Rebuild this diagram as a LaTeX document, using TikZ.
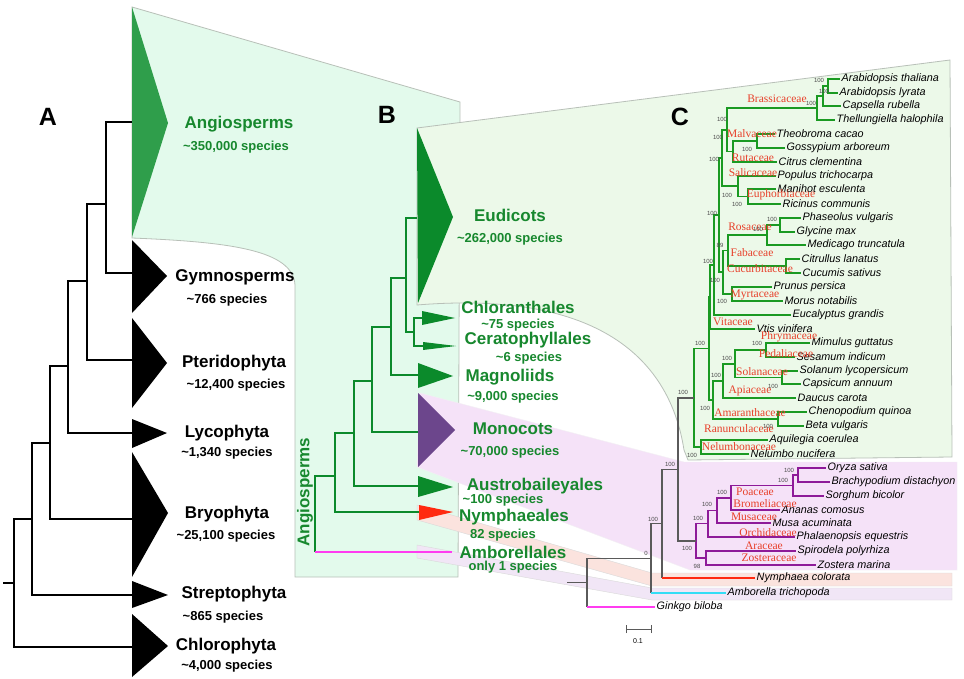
\documentclass[tikz,border=0pt]{standalone}
\usepackage{fontspec}
\setmainfont{Liberation Sans}
\newfontfamily\famfont{Liberation Serif}
\definecolor{bfill}{HTML}{E3FAEC}
\definecolor{cfill}{HTML}{ECF9E9}
\definecolor{edgec}{HTML}{B8C0B8}
\definecolor{pinkc}{HTML}{F5E2F8}
\definecolor{salmonc}{HTML}{FBE3DE}
\definecolor{lavc}{HTML}{F1E6F6}
\definecolor{lgreen}{HTML}{2F9E4B}
\definecolor{dgreen}{HTML}{0B8A2B}
\definecolor{tgreen}{HTML}{17882E}
\definecolor{lineg}{HTML}{1A9A22}
\definecolor{monoc}{HTML}{6C468C}
\definecolor{purpc}{HTML}{8E1A99}
\definecolor{nred}{HTML}{FF2A10}
\definecolor{famred}{HTML}{E8402A}
\definecolor{cyanc}{HTML}{33DDF5}
\definecolor{magc}{HTML}{FF3CF0}
\definecolor{greyc}{HTML}{5A5A5A}
\tikzset{
  bigl/.style={font=\bfseries\fontsize{17}{19}\selectfont, inner sep=0pt},
  spl/.style={font=\bfseries\fontsize{13}{15}\selectfont, inner sep=0pt},
  grtxt/.style={text=tgreen},
  panel/.style={font=\bfseries\fontsize{25}{27}\selectfont, inner sep=0pt},
  taxon/.style={font=\itshape\fontsize{10.8}{12}\selectfont, anchor=west, inner sep=1.5pt},
  fam/.style={font=\famfont\fontsize{11.5}{13}\selectfont, text=famred, inner sep=0pt},
  bs/.style={font=\fontsize{6}{7}\selectfont, text=black!70, inner sep=0pt},
  atree/.style={draw=black, line width=1.8pt},
  btree/.style={draw=dgreen, line width=1.8pt},
  cg/.style={draw=lineg, line width=1.5pt},
  cp/.style={draw=purpc, line width=1.5pt},
  cgr/.style={draw=greyc, line width=1.2pt},
  region/.style={draw=edgec, line width=0.8pt},
}
\begin{document}
\begin{tikzpicture}[x=1pt,y=-1pt]
\useasboundingbox[fill=white] (0,0) rectangle (964,679);

% ---------- background regions ----------
\path[region, fill=bfill] (132,7) -- (460,102) -- (458,577) -- (295,577) -- (295,285)
  .. controls (293,250) and (230,242) .. (132,238) -- cycle;
\path[fill=pinkc, draw=pinkc!80!black!20] (420,393) -- (684,462) -- (957,462) -- (957,570) -- (690,570) -- (417,467) -- cycle;
\path[fill=salmonc, draw=black!15] (417,505) -- (652,573) -- (952,573) -- (952,586) -- (652,586) -- (417,520) -- cycle;
\path[fill=lavc, draw=black!15] (417,545) -- (652,588) -- (952,588) -- (952,600) -- (652,600) -- (417,558) -- cycle;
\path[region, fill=cfill] (417,128) -- (950,60) -- (952,457) -- (688,460) -- (684,450)
  .. controls (670,360) and (600,290) .. (417,305) -- cycle;

% ---------- panel A ----------
\node[panel] (pA) at (48,117) {A};
\fill[lgreen] (132,7) -- (168,123) -- (132,237) -- cycle;
\fill[black] (132,240) -- (167,276) -- (132,313) -- cycle;
\fill[black] (132,318) -- (167,363) -- (132,408) -- cycle;
\fill[black] (132,419) -- (167,433) -- (132,448) -- cycle;
\fill[black] (132,452) -- (168,513) -- (132,577) -- cycle;
\fill[black] (132,581) -- (168,595) -- (132,608) -- cycle;
\fill[black] (132,614) -- (168,646) -- (132,677) -- cycle;
\coordinate (sAng) at (132,122);
\coordinate (sGym) at (132,273);
\coordinate (sPte) at (132,360);
\coordinate (sLyc) at (132,433);
\coordinate (sBry) at (132,519);
\coordinate (sStr) at (132,595);
\coordinate (sChl) at (132,647);
\coordinate (a1) at (106,204);
\coordinate (a2) at (87,281);
\coordinate (a3) at (68,366);
\coordinate (a4) at (50,443);
\coordinate (a5) at (32,519);
\coordinate (a6) at (14,583);
\coordinate (a0) at (3,583);
\draw[atree] (a1) |- (sAng);
\draw[atree] (a1) |- (sGym);
\draw[atree] (a2) |- (a1);
\draw[atree] (a2) |- (sPte);
\draw[atree] (a3) |- (a2);
\draw[atree] (a3) |- (sLyc);
\draw[atree] (a4) |- (a3);
\draw[atree] (a4) |- (sBry);
\draw[atree] (a5) |- (a4);
\draw[atree] (a5) |- (sStr);
\draw[atree] (a6) |- (a5);
\draw[atree] (a6) |- (sChl);
\draw[atree] (a0) -- (a6);

\node[bigl, grtxt] (tAng) at (239,124) {Angiosperms};
\node[spl, grtxt] (nAng) at (236,147) {\textasciitilde350,000 species};
\node[bigl] (tGym) at (235,277) {Gymnosperms};
\node[spl] (nGym) at (227,300) {\textasciitilde766 species};
\node[bigl] (tPte) at (234,363) {Pteridophyta};
\node[spl] (nPte) at (236,385) {\textasciitilde12,400 species};
\node[bigl] (tLyc) at (227,433) {Lycophyta};
\node[spl] (nLyc) at (227,453) {\textasciitilde1,340 species};
\node[bigl] (tBry) at (227,514) {Bryophyta};
\node[spl] (nBry) at (226,536) {\textasciitilde25,100 species};
\node[bigl] (tStr) at (234,594) {Streptophyta};
\node[spl] (nStr) at (223,617) {\textasciitilde865 species};
\node[bigl] (tChl) at (226,646) {Chlorophyta};
\node[spl] (nChl) at (227,666) {\textasciitilde4,000 species};

% ---------- panel B ----------
\node[panel] (pB) at (387,115) {B};
\fill[dgreen] (417,128) -- (453,217) -- (418,303) -- cycle;
\fill[dgreen] (422,311) -- (455,318) -- (422,325) -- cycle;
\fill[dgreen] (423,342) -- (456,346) -- (423,350) -- cycle;
\fill[dgreen] (418,363) -- (453,376) -- (418,388) -- cycle;
\fill[monoc] (418,393) -- (455,430) -- (418,467) -- cycle;
\fill[dgreen] (418,476) -- (453,487) -- (418,497) -- cycle;
\fill[nred] (419,505) -- (453,512) -- (419,520) -- cycle;
\coordinate (sEud) at (417,218);
\coordinate (sCh) at (422,318);
\coordinate (sCe) at (423,346);
\coordinate (sMa) at (418,375);
\coordinate (sMo) at (418,432);
\coordinate (sAu) at (418,486);
\coordinate (sNy) at (419,512);
\coordinate (eAm) at (452,552);
\coordinate (bC) at (414,332);
\coordinate (bE) at (406,278);
\coordinate (bM) at (391,327);
\coordinate (bMo) at (372,381);
\coordinate (bA) at (354,433);
\coordinate (bN) at (335,476);
\coordinate (bR) at (315,552);
\draw[btree] (bC) |- (sCh);
\draw[btree] (bC) |- (sCe);
\draw[btree] (bE) |- (sEud);
\draw[btree] (bE) |- (bC);
\draw[btree] (bM) |- (bE);
\draw[btree] (bM) |- (sMa);
\draw[btree] (bMo) |- (bM);
\draw[btree] (bMo) |- (sMo);
\draw[btree] (bA) |- (bMo);
\draw[btree] (bA) |- (sAu);
\draw[btree] (bN) |- (bA);
\draw[btree] (bN) |- (sNy);
\draw[btree] (bR) |- (bN);
\draw[draw=magc, line width=1.6pt] (bR) -- (eAm);

\node[bigl, grtxt, rotate=90] (tAngB) at (305,492) {Angiosperms};
\node[bigl, grtxt] (tEud) at (510,215) {Eudicots};
\node[spl, grtxt] (nEud) at (510,239) {\textasciitilde262,000 species};
\node[bigl, grtxt] (tChB) at (518,307) {Chloranthales};
\node[spl, grtxt] (nChB) at (518,325) {\textasciitilde75 species};
\node[bigl, grtxt] (tCe) at (528,340) {Ceratophyllales};
\node[spl, grtxt] (nCe) at (529,358) {\textasciitilde6 species};
\node[bigl, grtxt] (tMa) at (510,377) {Magnoliids};
\node[spl, grtxt] (nMa) at (513,397) {\textasciitilde9,000 species};
\node[bigl, grtxt] (tMo) at (513,429) {Monocots};
\node[spl, grtxt] (nMo) at (510,452) {\textasciitilde70,000 species};
\node[bigl, grtxt] (tAu) at (535,486) {Austrobaileyales};
\node[spl, grtxt] (nAu) at (503,500) {\textasciitilde100 species};
\node[bigl, grtxt] (tNy) at (514,517) {Nymphaeales};
\node[spl, grtxt] (nNy) at (503,535) {82 species};
\node[bigl, grtxt] (tAm) at (513,552) {Amborellales};
\node[spl, grtxt] (nAm) at (513,567) {only 1 species};

% ---------- panel C ----------
\node[panel] (pC) at (680,117) {C};
\node[taxon] (L0) at (840,79) {Arabidopsis thaliana};
\node[taxon] (L1) at (838,93) {Arabidopsis lyrata};
\node[taxon] (L2) at (841,106) {Capsella rubella};
\node[taxon] (L3) at (835,120) {Thellungiella halophila};
\node[taxon] (L4) at (775,134) {Theobroma cacao};
\node[taxon] (L5) at (785,148) {Gossypium arboreum};
\node[taxon] (L6) at (777,162) {Citrus clementina};
\node[taxon] (L7) at (776,176) {Populus trichocarpa};
\node[taxon] (L8) at (776,189) {Manihot esculenta};
\node[taxon] (L9) at (781,204) {Ricinus communis};
\node[taxon] (L10) at (801,218) {Phaseolus vulgaris};
\node[taxon] (L11) at (795,232) {Glycine max};
\node[taxon] (L12) at (806,245) {Medicago truncatula};
\node[taxon] (L13) at (800,259) {Citrullus lanatus};
\node[taxon] (L14) at (801,273) {Cucumis sativus};
\node[taxon] (L15) at (772,287) {Prunus persica};
\node[taxon] (L16) at (783,301) {Morus notabilis};
\node[taxon] (L17) at (791,315) {Eucalyptus grandis};
\node[taxon] (L18) at (755,329) {Vtis vinifera};
\node[taxon] (L19) at (810,343) {Mimulus guttatus};
\node[taxon] (L20) at (795,357) {Sesamum indicum};
\node[taxon] (L21) at (798,371) {Solanum lycopersicum};
\node[taxon] (L22) at (801,384) {Capsicum annuum};
\node[taxon] (L23) at (796,398) {Daucus carota};
\node[taxon] (L24) at (807,412) {Chenopodium quinoa};
\node[taxon] (L25) at (804,426) {Beta vulgaris};
\node[taxon] (L26) at (768,440) {Aquilegia coerulea};
\node[taxon] (L27) at (749,454) {Nelumbo nucifera};
\node[taxon] (L28) at (826,468) {Oryza sativa};
\node[taxon] (L29) at (830,482) {Brachypodium distachyon};
\node[taxon] (L30) at (824,496) {Sorghum bicolor};
\node[taxon] (L31) at (780,510) {Ananas comosus};
\node[taxon] (L32) at (771,523) {Musa acuminata};
\node[taxon] (L33) at (795,537) {Phalaenopsis equestris};
\node[taxon] (L34) at (796,551) {Spirodela polyrhiza};
\node[taxon] (L35) at (816,565) {Zostera marina};
\node[taxon] (L36) at (755,578) {Nymphaea colorata};
\node[taxon] (L37) at (726,593) {Amborella trichopoda};
\node[taxon] (L38) at (655,607) {Ginkgo biloba};

\coordinate (n1) at (828,86);
\coordinate (n2) at (823,96);
\coordinate (n3) at (817,108);
\coordinate (n4) at (757,141);
\coordinate (n5) at (733,151.5);
\coordinate (n6) at (727,130);
\coordinate (n7) at (748,196.5);
\coordinate (n8) at (738,186);
\coordinate (n9) at (722,158);
\coordinate (n10) at (780,225);
\coordinate (n11) at (767,235);
\coordinate (n12) at (786,266);
\coordinate (n13) at (728,250.5);
\coordinate (n14) at (732,294);
\coordinate (n15) at (723,272);
\coordinate (n16) at (719,215);
\coordinate (n17) at (714,265);
\coordinate (n18) at (710,297);
\coordinate (n19) at (766,350);
\coordinate (n20) at (782,377.5);
\coordinate (n21) at (735,364);
\coordinate (n22) at (723,381);
\coordinate (n23) at (778,419);
\coordinate (n24) at (713,400);
\coordinate (n25) at (709,348.5);
\coordinate (n26) at (701,447);
\coordinate (n27) at (694,398);
\coordinate (m1) at (798,475);
\coordinate (m2) at (793,485.5);
\coordinate (m3) at (731,497.8);
\coordinate (m4) at (717,510.4);
\coordinate (m5) at (708,523.7);
\coordinate (m6) at (706,558);
\coordinate (m7) at (696,540.9);
\coordinate (n28) at (678,469.4);
\coordinate (n29) at (662,523.7);
\coordinate (n30) at (651,558.4);
\coordinate (n31) at (587,582.7);
\coordinate (r0) at (567,582.7);

\draw[cg] (n1) |- (L0.west);  \draw[cg] (n1) |- (L1.west);
\draw[cg] (n2) |- (n1);       \draw[cg] (n2) |- (L2.west);
\draw[cg] (n3) |- (n2);       \draw[cg] (n3) |- (L3.west);
\draw[cg] (n4) |- (L4.west);  \draw[cg] (n4) |- (L5.west);
\draw[cg] (n5) |- (n4);       \draw[cg] (n5) |- (L6.west);
\draw[cg] (n6) |- (n3);       \draw[cg] (n6) |- (n5);
\draw[cg] (n7) |- (L8.west);  \draw[cg] (n7) |- (L9.west);
\draw[cg] (n8) |- (L7.west);  \draw[cg] (n8) |- (n7);
\draw[cg] (n9) |- (n6);       \draw[cg] (n9) |- (n8);
\draw[cg] (n10) |- (L10.west); \draw[cg] (n10) |- (L11.west);
\draw[cg] (n11) |- (n10);      \draw[cg] (n11) |- (L12.west);
\draw[cg] (n12) |- (L13.west); \draw[cg] (n12) |- (L14.west);
\draw[cg] (n13) |- (n11);      \draw[cg] (n13) |- (n12);
\draw[cg] (n14) |- (L15.west); \draw[cg] (n14) |- (L16.west);
\draw[cg] (n15) |- (n13);      \draw[cg] (n15) |- (n14);
\draw[cg] (n16) |- (n9);       \draw[cg] (n16) |- (n15);
\draw[cg] (n17) |- (n16);      \draw[cg] (n17) |- (L17.west);
\draw[cg] (n18) |- (n17);      \draw[cg] (n18) |- (L18.west);
\draw[cg] (n19) |- (L19.west); \draw[cg] (n19) |- (L20.west);
\draw[cg] (n20) |- (L21.west); \draw[cg] (n20) |- (L22.west);
\draw[cg] (n21) |- (n19);      \draw[cg] (n21) |- (n20);
\draw[cg] (n22) |- (n21);      \draw[cg] (n22) |- (L23.west);
\draw[cg] (n23) |- (L24.west); \draw[cg] (n23) |- (L25.west);
\draw[cg] (n24) |- (n22);      \draw[cg] (n24) |- (n23);
\draw[cg] (n25) |- (n18);      \draw[cg] (n25) |- (n24);
\draw[cg] (n26) |- (L26.west); \draw[cg] (n26) |- (L27.west);
\draw[cg] (n27) |- (n25);      \draw[cg] (n27) |- (n26);

\draw[cp] (m1) |- (L28.west); \draw[cp] (m1) |- (L29.west);
\draw[cp] (m2) |- (m1);       \draw[cp] (m2) |- (L30.west);
\draw[cp] (m3) |- (m2);       \draw[cp] (m3) |- (L31.west);
\draw[cp] (m4) |- (m3);       \draw[cp] (m4) |- (L32.west);
\draw[cp] (m5) |- (m4);       \draw[cp] (m5) |- (L33.west);
\draw[cp] (m6) |- (L34.west); \draw[cp] (m6) |- (L35.west);
\draw[cp] (m7) |- (m5);       \draw[cp] (m7) |- (m6);

\draw[cgr] (n28) |- (n27);  \draw[cgr] (n28) |- (m7);
\draw[cgr] (n29) |- (n28);  \draw[cgr] (n29) -- (n29 |- L36);
\draw[draw=nred, line width=1.5pt] (n29 |- L36) -- (L36.west);
\draw[cgr] (n30) |- (n29);  \draw[cgr] (n30) -- (n30 |- L37);
\draw[draw=cyanc, line width=1.5pt] (n30 |- L37) -- (L37.west);
\draw[cgr] (n31) |- (n30);  \draw[cgr] (n31) -- (n31 |- L38);
\draw[draw=magc, line width=1.5pt] (n31 |- L38) -- (L38.west);
\draw[cgr] (r0) -- (n31);

% family labels
\node[fam] (fBra) at (777,99) {Brassicaceae};
\node[fam] (fMal) at (752,134) {Malvaceae};
\node[fam] (fRut) at (753,158) {Rutaceae};
\node[fam] (fSal) at (753,173) {Salicaceae};
\node[fam] (fEup) at (781,195) {Euphorbiaceae};
\node[fam] (fRos) at (750,227) {Rosaceae};
\node[fam] (fFab) at (752,253) {Fabaceae};
\node[fam] (fCuc) at (760,269) {Cucurbitaceae};
\node[fam] (fMyr) at (755,295) {Myrtaceae};
\node[fam] (fVit) at (733,322) {Vitaceae};
\node[fam] (fPhr) at (789,337) {Phrymaceae};
\node[fam] (fPed) at (786,354) {Pedaliaceae};
\node[fam] (fSol) at (762,372) {Solanaceae};
\node[fam] (fApi) at (750,391) {Apiaceae};
\node[fam] (fAma) at (750,413) {Amaranthaceae};
\node[fam] (fRan) at (739,429) {Ranunculaceae};
\node[fam] (fNel) at (739,447) {Nelumbonaceae};
\node[fam] (fPoa) at (755,492) {Poaceae};
\node[fam] (fBro) at (765,504) {Bromeliaceae};
\node[fam] (fMus) at (754,517) {Musaceae};
\node[fam] (fOrc) at (768,533) {Orchidaceae};
\node[fam] (fAra) at (764,546) {Araceae};
\node[fam] (fZos) at (769,558) {Zosteraceae};

% bootstrap values
\node[bs] (b1) at (819,80) {100};
\node[bs] (b2) at (824,91) {100};
\node[bs] (b3) at (811,103) {100};
\node[bs] (b4) at (722,119) {100};
\node[bs] (b5) at (718,137) {100};
\node[bs] (b6) at (747,149) {100};
\node[bs] (b7) at (714,159) {100};
\node[bs] (b8) at (727,195) {100};
\node[bs] (b9) at (737,204) {100};
\node[bs] (b10) at (712,213) {100};
\node[bs] (b11) at (772,219) {100};
\node[bs] (b12) at (758,229) {100};
\node[bs] (b13) at (720,245) {89};
\node[bs] (b14) at (708,261) {100};
\node[bs] (b15) at (715,280) {100};
\node[bs] (b16) at (722,301) {100};
\node[bs] (b17) at (700,343) {100};
\node[bs] (b18) at (757,343) {100};
\node[bs] (b19) at (727,358) {100};
\node[bs] (b20) at (716,375) {100};
\node[bs] (b21) at (773,386) {100};
\node[bs] (b22) at (683,392) {100};
\node[bs] (b23) at (705,408) {100};
\node[bs] (b24) at (768,426) {100};
\node[bs] (b25) at (692,455) {100};
\node[bs] (b26) at (670,464) {100};
\node[bs] (b27) at (789,470) {100};
\node[bs] (b28) at (783,480) {100};
\node[bs] (b29) at (722,492) {100};
\node[bs] (b30) at (707,504) {100};
\node[bs] (b31) at (698,518) {100};
\node[bs] (b32) at (653,519) {100};
\node[bs] (b33) at (687,548) {100};
\node[bs] (b34) at (646,553) {0};
\node[bs] (b35) at (697,566) {98};

% scale bar
\coordinate (sb1) at (626,629);
\coordinate (sb2) at (651,629);
\draw[draw=greyc, line width=0.8pt] (sb1) -- (sb2);
\draw[draw=greyc, line width=0.8pt] ([yshift=-4pt]sb1) -- ([yshift=4pt]sb1);
\draw[draw=greyc, line width=0.8pt] ([yshift=-4pt]sb2) -- ([yshift=4pt]sb2);
\node[font=\fontsize{7}{8}\selectfont, inner sep=0pt] (sbl) at (638,641) {0.1};
\end{tikzpicture}
\end{document}
